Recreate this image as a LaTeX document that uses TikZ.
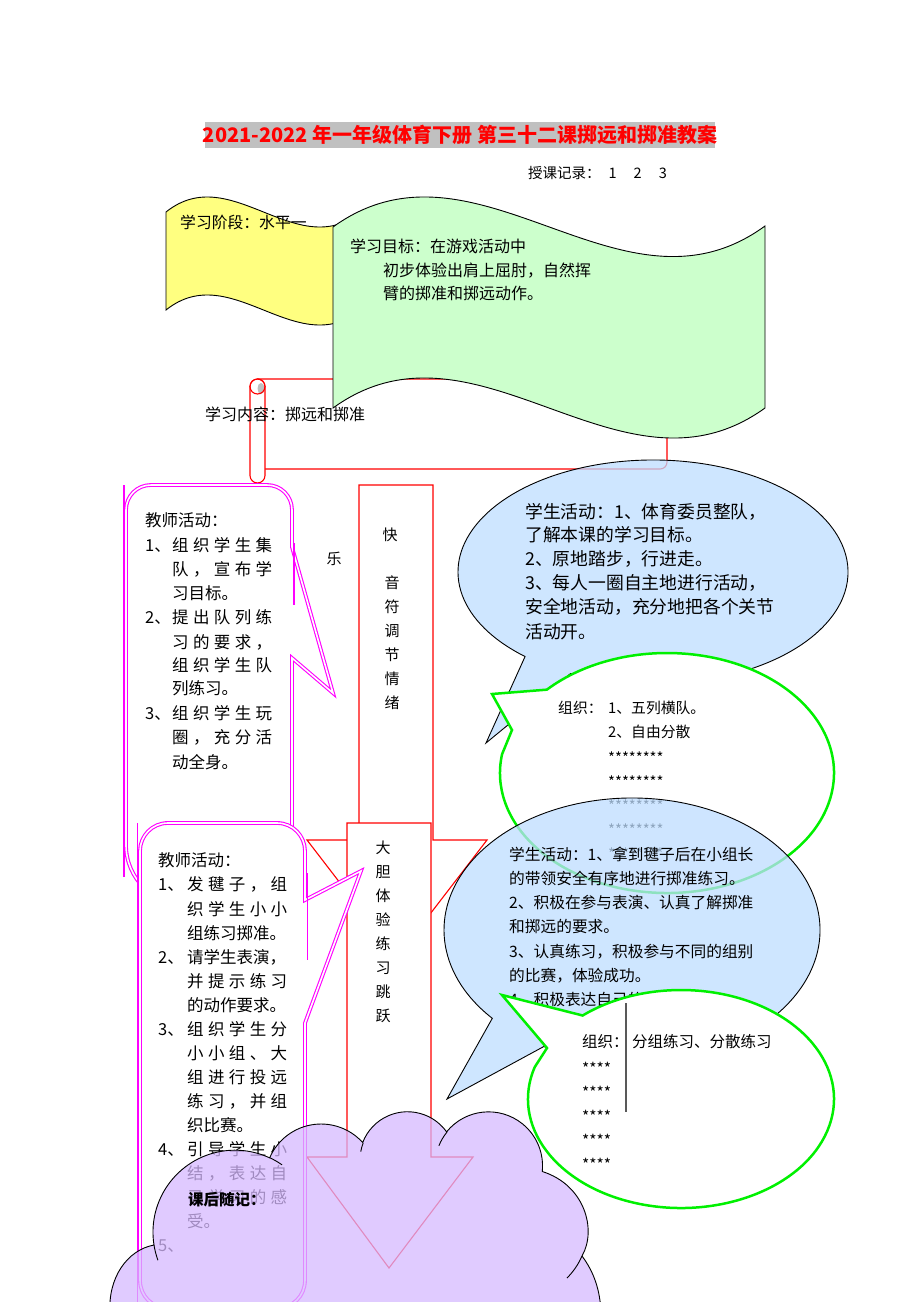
\documentclass[tikz,border=0pt]{standalone}
\usepackage{fontspec}
\setmainfont{Noto Sans CJK SC}
\definecolor{ttlgray}{RGB}{192,192,192}
\definecolor{flagyel}{RGB}{255,255,128}
\definecolor{flaggrn}{RGB}{204,255,204}
\definecolor{bubblue}{RGB}{190,221,255}
\definecolor{cloudlav}{RGB}{214,185,255}
\definecolor{boxmag}{RGB}{255,0,255}
\definecolor{ovlgrn}{RGB}{0,240,0}
\definecolor{arrred}{RGB}{255,0,0}
\newcommand\jspread[1]{\makebox[100pt][s]{\jsprX#1\jsprEnd}}
\def\jsprEnd{}
\def\jsprX#1{#1\jsprY}
\def\jsprY#1{\ifx#1\jsprEnd\else\hfill#1\expandafter\jsprY\fi}
\begin{document}
\begin{tikzpicture}[x=1pt,y=-1pt,
  tx/.style={anchor=base west,inner sep=0pt,font=\fontsize{#1}{#1}\selectfont,yshift=-0.38*#1pt},
  tc/.style={anchor=base,inner sep=0pt,font=\fontsize{#1}{#1}\selectfont,yshift=-0.38*#1pt},
  redln/.style={draw=arrred,line width=1.1pt},
  magbox/.style={draw=boxmag,line width=1.1pt,double=white,double distance=1.6pt,fill=white},
  magart/.style={draw=boxmag,line width=1.1pt},
  blk/.style={draw=black,line width=0.9pt},
  grnln/.style={draw=ovlgrn,line width=2.5pt,fill=white},
  bluefill/.style={fill=bubblue,fill opacity=0.75,draw=black,line width=0.9pt},
  cloudfill/.style={fill=cloudlav,fill opacity=0.75,draw=black,line width=0.9pt}
]
\useasboundingbox (0,0) rectangle (920,1302);
\clip (0,0) rectangle (920,1302);

% title
\fill[ttlgray] (205,122) rectangle (715,148);
\node[tc=20,font=\bfseries\fontsize{20}{20}\selectfont,text=red] (title) at (460,135) {2021-2022 年一年级体育下册 第三十二课掷远和掷准教案};
\node[tx=14.5] (rec) at (528,173) {授课记录：\hspace{8pt}1\hspace{17pt}2\hspace{17pt}3};

% scroll
\draw[redln,fill=white] (258,379) -- (667,379) -- (667,462) .. controls (667,466) and (664,469) .. (660,469) -- (265,469);
\draw[redln,fill=white] (250,386.5) .. controls (250,382.4) and (253.4,379) .. (257.5,379) .. controls (261.6,379) and (265,382.4) .. (265,386.5) -- (265,475.5) .. controls (265,479.6) and (261.6,483) .. (257.5,483) .. controls (253.4,483) and (250,479.6) .. (250,475.5) -- cycle;
\fill[black!25] (261,388.5) ellipse[x radius=3.5,y radius=5.5];
\draw[redln] (257.5,386.5) circle[radius=7.5];

% yellow flag
\draw[blk,fill=flagyel] (166,212) .. controls (231,160) and (296,264) .. (361,212) -- (361,310) .. controls (296,362) and (231,258) .. (166,310) -- cycle;
\node[tx=15.8] (stage) at (180,222) {学习阶段：水平一};

% green flag
\draw[blk,fill=flaggrn] (333,227) .. controls (477,123) and (621,331) .. (765,226) -- (765,408) .. controls (621,512) and (477,304) .. (333,408) -- cycle;
\node[tx=16] (goal1) at (350,246) {学习目标：在游戏活动中};
\node[tx=16] (goal2) at (383,270) {初步体验出肩上屈肘，自然挥};
\node[tx=16] (goal3) at (383,293) {臂的掷准和掷远动作。};

\node[tx=16] (content) at (205,414) {学习内容：掷远和掷准};

% teacher box 1
\draw[magbox] (126,700) -- (126,510) .. controls (126,496) and (137,485) .. (151,485) -- (267,485) .. controls (281,485) and (292,496) .. (292,510) -- (292,547) -- (333,693) -- (292,658) -- (292,845) .. controls (292,878) and (265,905) .. (232,905) -- (186,905) .. controls (153,905) and (126,878) .. (126,845) -- cycle;
\draw[magart] (124,485) -- (124,877);
\draw[magart] (294,543) -- (294,605);
\node[tx=16.5] (t1h) at (145,520) {教师活动：};
\node[tx=16.5] (t1n1) at (145,545) {1、};
\node[tx=16.5] (t1a) at (172,545) {\jspread{组织学生集}};
\node[tx=16.5] (t1b) at (172,569) {\jspread{队，宣布学}};
\node[tx=16.5] (t1c) at (172,593) {习目标。};
\node[tx=16.5] (t1n2) at (145,617) {2、};
\node[tx=16.5] (t1d) at (172,617) {\jspread{提出队列练}};
\node[tx=16.5] (t1e) at (172,642) {\jspread{习的要求，}};
\node[tx=16.5] (t1f) at (172,665) {\jspread{组织学生队}};
\node[tx=16.5] (t1g) at (172,688) {列练习。};
\node[tx=16.5] (t1n3) at (145,713) {3、};
\node[tx=16.5] (t1i) at (172,713) {\jspread{组织学生玩}};
\node[tx=16.5] (t1j) at (172,737) {\jspread{圈，充分活}};
\node[tx=16.5] (t1k) at (172,762) {动全身。};

% arrow 1
\draw[redln,fill=white] (359,485) -- (433,485) -- (433,840) -- (487,840) -- (397,957) -- (307,840) -- (359,840) -- cycle;
\node[tc=15] (kuai) at (390,535) {快};
\node[tc=15] (le) at (334,559) {乐};
\foreach \c [count=\i] in {音,符,调,节,情,绪}
  \node[tc=15] (a1c\i) at (392,{583+24*(\i-1)}) {\c};

% blue bubble 1
\path[bluefill] ([shift={(653,572)}]131:195 and 112) -- (486,743) -- ([shift={(653,572)}]115:195 and 112) arc[start angle=115,end angle=-229,x radius=195,y radius=112] -- cycle;
\node[tx=17.8] (s1a) at (525,512) {学生活动：1、体育委员整队，};
\node[tx=17.8] (s1b) at (525,535) {了解本课的学习目标。};
\node[tx=17.8] (s1c) at (525,559) {2、原地踏步，行进走。};
\node[tx=17.8] (s1d) at (525,583) {3、每人一圈自主地进行活动，};
\node[tx=17.8] (s1e) at (525,607) {安全地活动，充分地把各个关节};
\node[tx=17.8] (s1f) at (525,632) {活动开。};

% green bubble 1
\draw[grnln] ([shift={(667,773)}]224:167 and 120) -- (492,694) -- (512,730) -- ([shift={(667,773)}]189:167 and 120) arc[start angle=189,end angle=-136,x radius=167,y radius=120] -- cycle;
\node[tx=14.8] (o1h) at (558,708) {组织：};
\node[tx=14.8] (o1a) at (608,708) {1、五列横队。};
\node[tx=14.8] (o1b) at (608,732) {2、自由分散};
\foreach \r in {0,...,4}
  \node[tx=14.8] (o1s\r) at (608,{758+24*\r}) {********};

% arrow 2
\draw[redln,fill=white] (347,823) -- (431,823) -- (431,1157) -- (473,1157) -- (389,1268) -- (307,1157) -- (347,1157) -- cycle;
\foreach \c [count=\i] in {大,胆,体,验,练,习,跳,跃}
  \node[tc=15] (a2c\i) at (383,{848+24*(\i-1)}) {\c};

% teacher box 2
\draw[magbox] (140,1000) -- (140,851) .. controls (140,836) and (152,823) .. (168,823) -- (277,823) .. controls (293,823) and (305,836) .. (305,851) -- (305,900) -- (361,871) -- (305,1023) -- (305,1280) .. controls (305,1296) and (293,1308) .. (277,1308) -- (168,1308) .. controls (152,1308) and (140,1296) .. (140,1280) -- cycle;
\draw[magart] (137.5,823) -- (137.5,1302);
\draw[magart] (307.5,873) -- (307.5,960);
\node[tx=16.5] (t2h) at (158,860) {教师活动：};
\node[tx=16.5] (t2n1) at (158,884) {1、};
\node[tx=16.5] (t2a) at (187,884) {\jspread{发毽子，组}};
\node[tx=16.5] (t2b) at (187,909) {\jspread{织学生小小}};
\node[tx=16.5] (t2c) at (187,933) {组练习掷准。};
\node[tx=16.5] (t2n2) at (158,957) {2、};
\node[tx=16.5] (t2d) at (187,957) {请学生表演，};
\node[tx=16.5] (t2e) at (187,981) {\jspread{并提示练习}};
\node[tx=16.5] (t2f) at (187,1005) {的动作要求。};
\node[tx=16.5] (t2n3) at (158,1029) {3、};
\node[tx=16.5] (t2g) at (187,1029) {\jspread{组织学生分}};
\node[tx=16.5] (t2i) at (187,1053) {\jspread{小小组、大}};
\node[tx=16.5] (t2j) at (187,1077) {\jspread{组进行投远}};
\node[tx=16.5] (t2k) at (187,1101) {\jspread{练习，并组}};
\node[tx=16.5] (t2l) at (187,1125) {织比赛。};
\node[tx=16.5] (t2n4) at (158,1149) {4、};
\node[tx=16.5] (t2m) at (187,1149) {\jspread{引导学生小}};
\node[tx=16.5] (t2o) at (187,1173) {\jspread{结，表达自}};
\node[tx=16.5] (t2p) at (187,1197) {\jspread{己学习的感}};
\node[tx=16.5] (t2q) at (187,1221) {受。};
\node[tx=16.5] (t2n5) at (158,1245) {5、};

% blue bubble 2
\path[bluefill] ([shift={(632,930)}]138:188 and 132) -- (447,1099) -- ([shift={(632,930)}]118:188 and 132) arc[start angle=118,end angle=-222,x radius=188,y radius=132] -- cycle;
\node[tx=15.7] (s2a) at (509,855) {学生活动：1、拿到毽子后在小组长};
\node[tx=15.7] (s2b) at (509,879) {的带领安全有序地进行掷准练习。};
\node[tx=15.7] (s2c) at (509,903) {2、积极在参与表演、认真了解掷准};
\node[tx=15.7] (s2d) at (509,927) {和掷远的要求。};
\node[tx=15.7] (s2e) at (509,952) {3、认真练习，积极参与不同的组别};
\node[tx=15.7] (s2f) at (509,976) {的比赛，体验成功。};
\node[tx=15.7] (s2g) at (509,1000) {4、积极表达自己的};

% green bubble 2
\draw[grnln] ([shift={(681,1099)}]230:153 and 109) -- (502,995) -- (547,1048) -- ([shift={(681,1099)}]197:153 and 109) arc[start angle=197,end angle=-130,x radius=153,y radius=109] -- cycle;
\draw[draw=black!65,line width=1.2pt] (626,1003) -- (626,1112);
\node[tx=15.5] (o2h) at (582,1042) {组织：};
\node[tx=15.5] (o2a) at (632,1042) {分组练习、分散练习};
\foreach \r in {0,...,4}
  \node[tx=15.5] (o2s\r) at (582,{1069+24*\r}) {****};

% cloud
\path[cloudfill] (110,1312) .. controls (108,1278) and (127,1250) .. (154,1245)
  arc[start angle=171,end angle=295,radius=82]
  arc[start angle=203.3,end angle=318,radius=56]
  arc[start angle=201,end angle=324.5,radius=48]
  arc[start angle=219,end angle=366,radius=54]
  .. controls (585,1185) and (597,1230) .. (582,1256)
  .. controls (594,1272) and (600,1290) .. (601,1312) -- cycle;
\draw[blk] (154,1245) arc[start angle=171,end angle=160,radius=82];
\draw[blk] (269.7,1157.7) arc[start angle=295,end angle=305,radius=82];
\draw[blk] (363.2,1142.8) arc[start angle=201,end angle=190,radius=48];
\draw[blk] (447,1132) arc[start angle=219,end angle=202,radius=54];
\draw[blk] (582,1256) .. controls (578,1265) and (573,1272) .. (567,1278);
\node[tx=15.5,font=\bfseries\fontsize{15.5}{15.5}\selectfont] (notes) at (188,1200) {课后随记：};
\end{tikzpicture}
\end{document}
